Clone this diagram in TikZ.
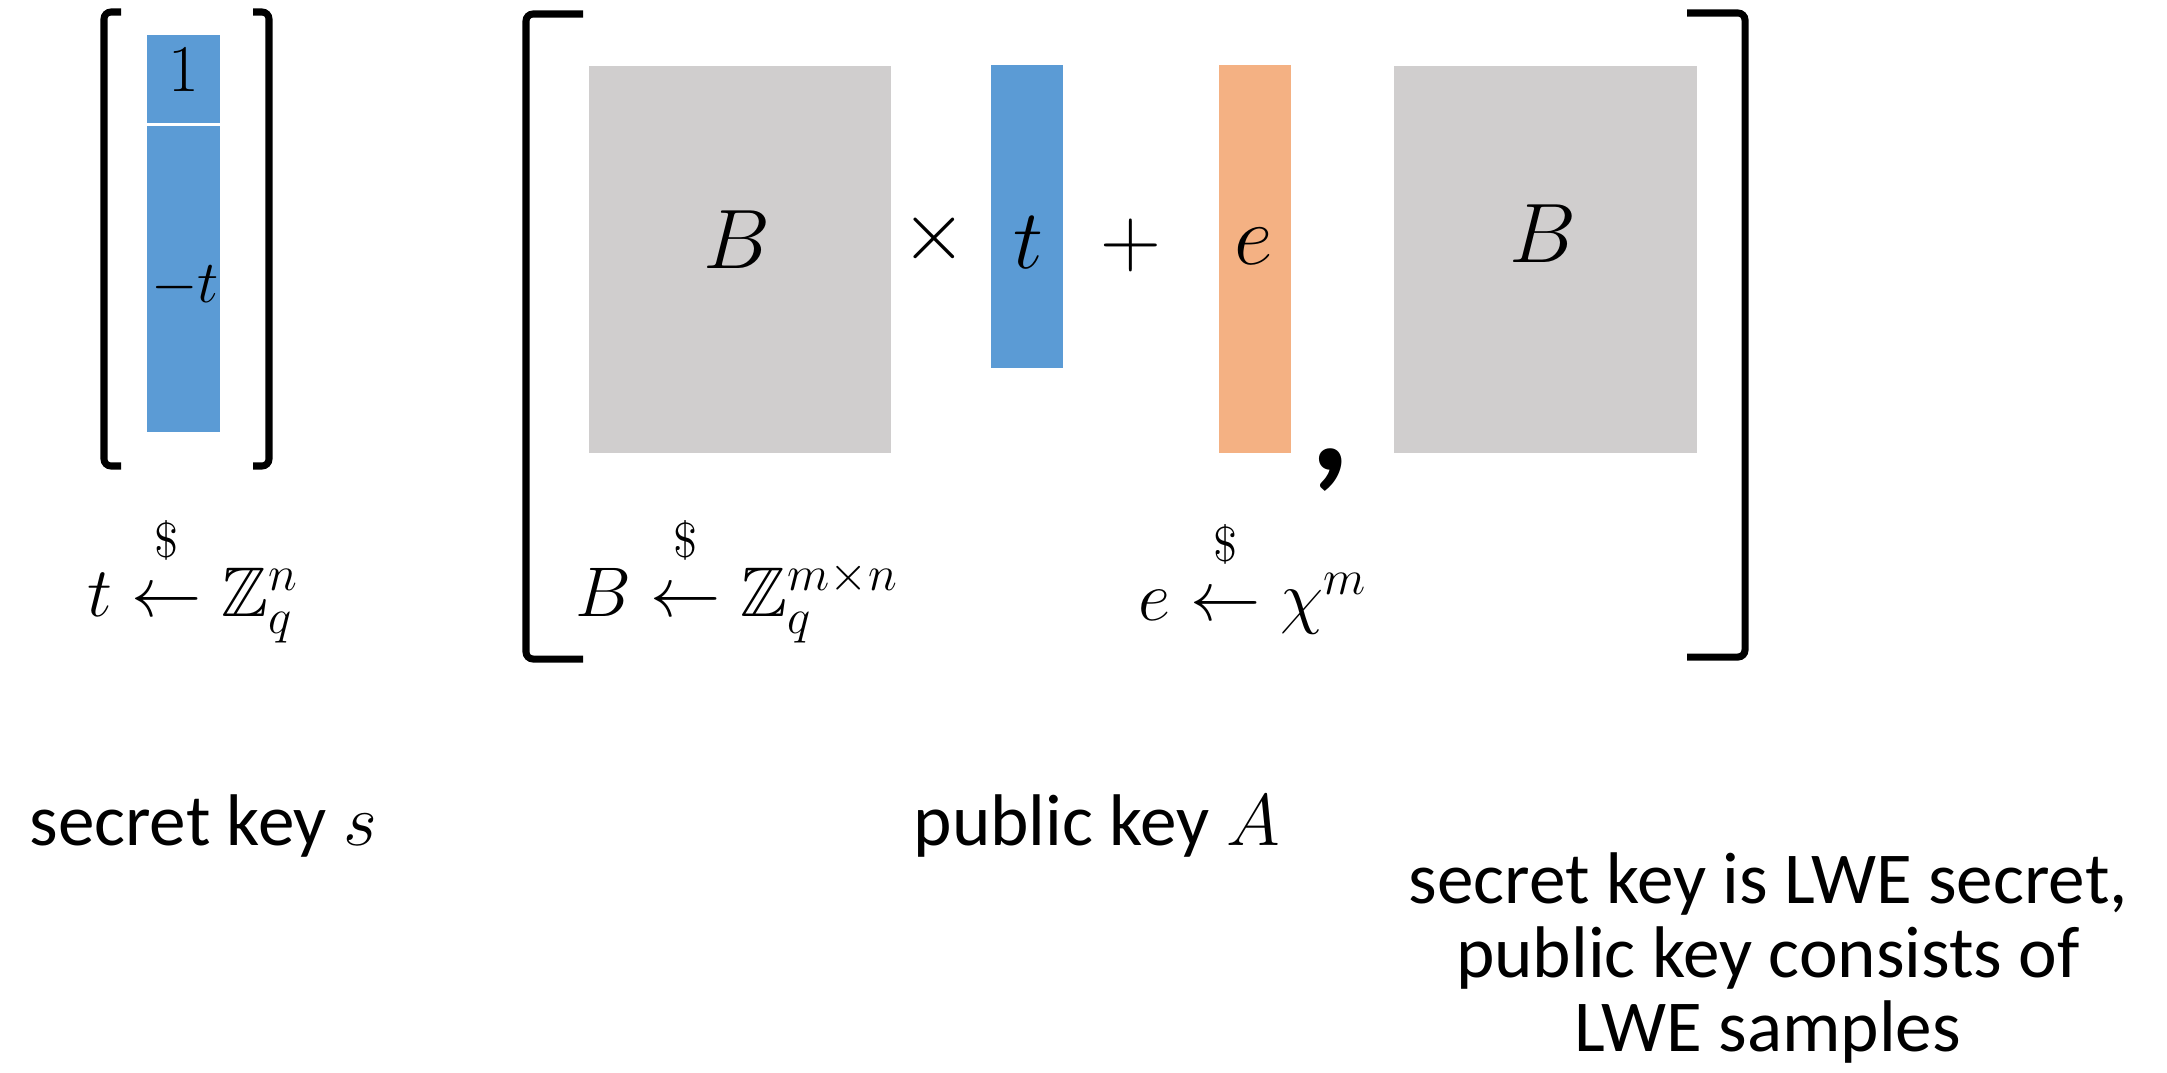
\RequirePackage{fix-cm}
\documentclass[tikz,border=0pt]{standalone}
\usepackage{amsmath,amssymb}
\usepackage[no-math]{fontspec}
\newfontfamily\calibri{Carlito}

\definecolor{keyblue}{HTML}{5B9BD5}
\definecolor{errorange}{HTML}{F4B183}
\definecolor{matgray}{HTML}{D0CECE}

% sampled-from arrow, the dollar sign set well above it
\newcommand{\sampled}{\mathrel{\overset{\$\rule[-7pt]{0pt}{7pt}}{\leftarrow}}}

\begin{document}
\begin{tikzpicture}[x=0.01cm, y=-0.01cm,
  bracket/.style={line width=2pt, rounded corners=2pt},
  bigmath/.style={font=\fontsize{24}{24}\selectfont},
  rowmath/.style={font=\fontsize{20}{20}\selectfont, anchor=base},
  caption/.style={font=\calibri\fontsize{20.8}{21}\selectfont, align=center}]

\useasboundingbox (0,0) rectangle (2167,1072);

% Secret key vector s = (1,-t)
\fill[keyblue] (147,35) rectangle (220,123);
\fill[keyblue] (147,126) rectangle (220,432);
\node[font=\fontsize{19}{19}\selectfont] (one) at (184,70) {$1$};
\node[font=\fontsize{17}{17}\selectfont] (minust) at (185,287) {$-t$};

% Brackets round s
\draw[bracket] (121,12) -- (104,12) -- (104,466) -- (121,466);
\draw[bracket] (253,12) -- (269,12) -- (269,466) -- (253,466);

% Blocks of the public key
\fill[matgray] (589,66) rectangle (891,453);
\fill[keyblue] (991,65) rectangle (1063,368);
\fill[errorange] (1219,65) rectangle (1291,453);
\fill[matgray] (1394,66) rectangle (1697,453);

% Brackets round A
\draw[bracket] (583,14) -- (526,14) -- (526,659) -- (583,659);
\draw[bracket] (1687,13) -- (1745,13) -- (1745,657) -- (1687,657);

% Symbols inside A
\foreach \name/\x/\y/\sym in {Bleft/737/240/B, times/934/238/\times, tvec/1028/243/t,
                              plus/1131/245/+, evec/1254/246/e, Bright/1543/234/B} {
  \node[bigmath] (\name) at (\x,\y) {$\sym$};
}
\node[font=\calibri\bfseries\fontsize{44}{44}\selectfont] (comma) at (1330,470) {,};

% Sampling of t, B and e
\node[rowmath] (tsample) at (193,616) {$t \sampled \mathbb{Z}_q^n$};
\node[rowmath] (Bsample) at (737,616) {$B \sampled \mathbb{Z}_q^{m\times n}$};
\node[rowmath] (esample) at (1253,620) {$e \sampled \chi^m$};

% Captions
\node[caption, anchor=west] (sk) at (17,826) {secret key $s$};
\node[caption] (pk) at (1097,826) {public key $A$};
\node[caption] (note) at (1768,958) {secret key is LWE secret,\\public key consists of\\LWE samples};

\end{tikzpicture}
\end{document}
